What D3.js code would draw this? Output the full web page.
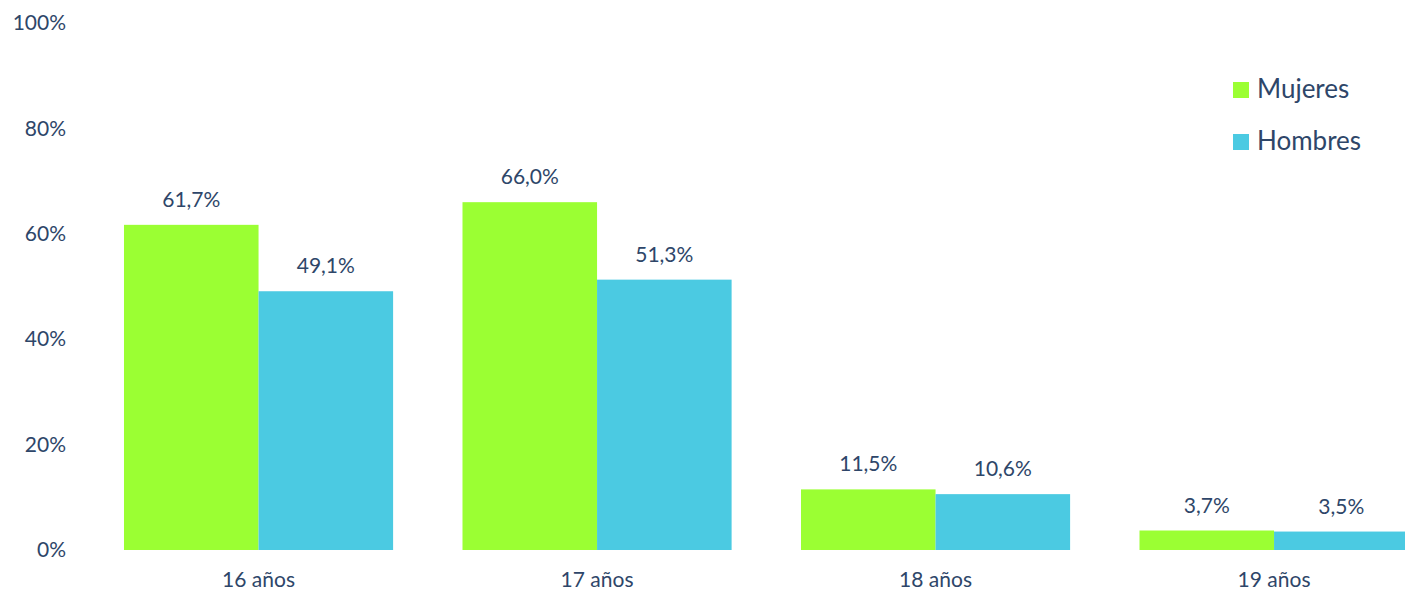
<!DOCTYPE html>
<html>
<head>
<meta charset="utf-8">
<script src="https://cdn.jsdelivr.net/npm/d3@7"></script>
<style>
  body { margin: 0; background: #fff; }
  svg text { font-family: Lato, "Open Sans", sans-serif; fill: #2E4669; }
</style>
</head>
<body>
<svg id="chart" width="1405" height="591"></svg>
<script>
// data
const categories = ["16 años", "17 años", "18 años", "19 años"];
const seriesNames = ["Mujeres", "Hombres"];
const mujeres = [61.7, 66.0, 11.5, 3.7];
const hombres = [49.1, 51.3, 10.6, 3.5];
const yTicks = [0, 20, 40, 60, 80, 100];
const colors = ["#9BFF33", "#4BCAE2"];

const svg = d3.select("#chart");

// y scale: 0% sits at 550, 100% at 23
const y = d3.scaleLinear().domain([0, 100]).range([550, 23]);

// group bands, last group runs past the right edge like the original
const x0 = d3.scaleBand()
  .domain(categories)
  .range([54.6, 1478])
  .padding(0.205);

const x1 = d3.scaleBand()
  .domain(seriesNames)
  .range([0, x0.bandwidth()]);

const seriesValues = [mujeres, hombres];

// y axis labels only (no line, no ticks)
const yAxis = d3.axisLeft(y)
  .tickValues(yTicks)
  .tickFormat(d => d + "%")
  .tickSize(0)
  .tickPadding(0);

svg.append("g")
  .attr("transform", "translate(66,0)")
  .call(yAxis)
  .call(g => g.select(".domain").remove())
  .selectAll("text")
  .style("font-size", "21px")
  .style("font-family", "Lato, 'Open Sans', sans-serif")
  .attr("fill", "#2E4669");

// bars
const groups = svg.append("g")
  .selectAll("g")
  .data(categories)
  .enter()
  .append("g")
  .attr("transform", d => `translate(${x0(d)},0)`);

groups.selectAll("rect")
  .data((d, i) => seriesNames.map((s, j) => ({ s: s, v: seriesValues[j][i], c: colors[j] })))
  .enter()
  .append("rect")
  .attr("x", d => x1(d.s))
  .attr("y", d => y(d.v))
  .attr("width", x1.bandwidth())
  .attr("height", d => y(0) - y(d.v))
  .attr("fill", d => d.c);

// value labels above bars
groups.selectAll("text.val")
  .data((d, i) => seriesNames.map((s, j) => ({ s: s, v: seriesValues[j][i] })))
  .enter()
  .append("text")
  .attr("class", "val")
  .attr("x", d => x1(d.s) + x1.bandwidth() / 2)
  .attr("y", d => y(d.v) - 18)
  .attr("text-anchor", "middle")
  .style("font-size", "21px")
  .text(d => d.v.toFixed(1).replace(".", ",") + "%");

// category labels
const xAxis = d3.axisBottom(x0).tickSize(0).tickPadding(0);
svg.append("g")
  .attr("transform", "translate(0,572)")
  .call(xAxis)
  .call(g => g.select(".domain").remove())
  .selectAll("text")
  .style("font-size", "21px")
  .style("font-family", "Lato, 'Open Sans', sans-serif")
  .attr("fill", "#2E4669");

// legend
const legend = svg.append("g")
  .selectAll("g")
  .data(seriesNames)
  .enter()
  .append("g")
  .attr("transform", (d, i) => `translate(1233,${82 + i * 52})`);

legend.append("rect")
  .attr("width", 16)
  .attr("height", 16)
  .attr("fill", (d, i) => colors[i]);

legend.append("text")
  .attr("x", 24)
  .attr("y", 16)
  .style("font-size", "26px")
  .text(d => d);
</script>
</body>
</html>
